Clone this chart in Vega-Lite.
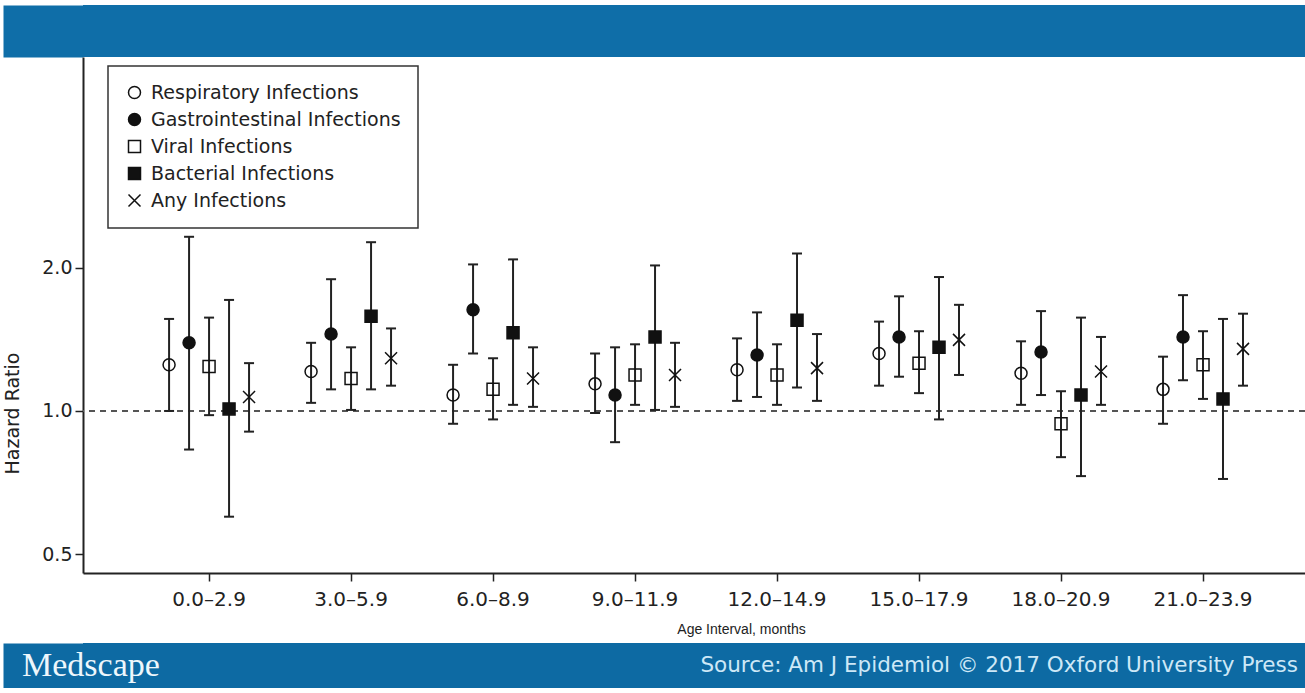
{
  "$schema": "https://vega.github.io/schema/vega-lite/v6.json",
  "background": "white",
  "padding": {"left": 3, "top": 5, "right": 0, "bottom": 0},
  "spacing": 0,
  "resolve": {"legend": {"fill": "independent", "shape": "independent", "stroke": "independent"}},
  "datasets": {
    "hazard": [
      {"age": "0.0–2.9", "infection": "Respiratory Infections", "hr": 1.25, "lower": 1.0, "upper": 1.56},
      {"age": "0.0–2.9", "infection": "Gastrointestinal Infections", "hr": 1.39, "lower": 0.83, "upper": 2.32},
      {"age": "0.0–2.9", "infection": "Viral Infections", "hr": 1.24, "lower": 0.98, "upper": 1.57},
      {"age": "0.0–2.9", "infection": "Bacterial Infections", "hr": 1.01, "lower": 0.6, "upper": 1.71},
      {"age": "0.0–2.9", "infection": "Any Infections", "hr": 1.07, "lower": 0.905, "upper": 1.26},
      {"age": "3.0–5.9", "infection": "Respiratory Infections", "hr": 1.21, "lower": 1.04, "upper": 1.39},
      {"age": "3.0–5.9", "infection": "Gastrointestinal Infections", "hr": 1.45, "lower": 1.11, "upper": 1.89},
      {"age": "3.0–5.9", "infection": "Viral Infections", "hr": 1.17, "lower": 1.005, "upper": 1.36},
      {"age": "3.0–5.9", "infection": "Bacterial Infections", "hr": 1.58, "lower": 1.11, "upper": 2.26},
      {"age": "3.0–5.9", "infection": "Any Infections", "hr": 1.29, "lower": 1.13, "upper": 1.49},
      {"age": "6.0–8.9", "infection": "Respiratory Infections", "hr": 1.08, "lower": 0.94, "upper": 1.25},
      {"age": "6.0–8.9", "infection": "Gastrointestinal Infections", "hr": 1.63, "lower": 1.32, "upper": 2.03},
      {"age": "6.0–8.9", "infection": "Viral Infections", "hr": 1.11, "lower": 0.96, "upper": 1.29},
      {"age": "6.0–8.9", "infection": "Bacterial Infections", "hr": 1.46, "lower": 1.03, "upper": 2.08},
      {"age": "6.0–8.9", "infection": "Any Infections", "hr": 1.17, "lower": 1.02, "upper": 1.36},
      {"age": "9.0–11.9", "infection": "Respiratory Infections", "hr": 1.14, "lower": 0.99, "upper": 1.32},
      {"age": "9.0–11.9", "infection": "Gastrointestinal Infections", "hr": 1.08, "lower": 0.86, "upper": 1.36},
      {"age": "9.0–11.9", "infection": "Viral Infections", "hr": 1.19, "lower": 1.03, "upper": 1.38},
      {"age": "9.0–11.9", "infection": "Bacterial Infections", "hr": 1.43, "lower": 1.005, "upper": 2.02},
      {"age": "9.0–11.9", "infection": "Any Infections", "hr": 1.19, "lower": 1.02, "upper": 1.39},
      {"age": "12.0–14.9", "infection": "Respiratory Infections", "hr": 1.22, "lower": 1.05, "upper": 1.42},
      {"age": "12.0–14.9", "infection": "Gastrointestinal Infections", "hr": 1.31, "lower": 1.07, "upper": 1.61},
      {"age": "12.0–14.9", "infection": "Viral Infections", "hr": 1.19, "lower": 1.03, "upper": 1.38},
      {"age": "12.0–14.9", "infection": "Bacterial Infections", "hr": 1.55, "lower": 1.12, "upper": 2.14},
      {"age": "12.0–14.9", "infection": "Any Infections", "hr": 1.23, "lower": 1.05, "upper": 1.45},
      {"age": "15.0–17.9", "infection": "Respiratory Infections", "hr": 1.32, "lower": 1.13, "upper": 1.54},
      {"age": "15.0–17.9", "infection": "Gastrointestinal Infections", "hr": 1.43, "lower": 1.18, "upper": 1.74},
      {"age": "15.0–17.9", "infection": "Viral Infections", "hr": 1.26, "lower": 1.09, "upper": 1.47},
      {"age": "15.0–17.9", "infection": "Bacterial Infections", "hr": 1.36, "lower": 0.96, "upper": 1.91},
      {"age": "15.0–17.9", "infection": "Any Infections", "hr": 1.41, "lower": 1.19, "upper": 1.67},
      {"age": "18.0–20.9", "infection": "Respiratory Infections", "hr": 1.2, "lower": 1.03, "upper": 1.4},
      {"age": "18.0–20.9", "infection": "Gastrointestinal Infections", "hr": 1.33, "lower": 1.08, "upper": 1.62},
      {"age": "18.0–20.9", "infection": "Viral Infections", "hr": 0.94, "lower": 0.8, "upper": 1.1},
      {"age": "18.0–20.9", "infection": "Bacterial Infections", "hr": 1.08, "lower": 0.73, "upper": 1.57},
      {"age": "18.0–20.9", "infection": "Any Infections", "hr": 1.21, "lower": 1.03, "upper": 1.43},
      {"age": "21.0–23.9", "infection": "Respiratory Infections", "hr": 1.11, "lower": 0.94, "upper": 1.3},
      {"age": "21.0–23.9", "infection": "Gastrointestinal Infections", "hr": 1.43, "lower": 1.16, "upper": 1.75},
      {"age": "21.0–23.9", "infection": "Viral Infections", "hr": 1.25, "lower": 1.06, "upper": 1.47},
      {"age": "21.0–23.9", "infection": "Bacterial Infections", "hr": 1.06, "lower": 0.72, "upper": 1.56},
      {"age": "21.0–23.9", "infection": "Any Infections", "hr": 1.35, "lower": 1.13, "upper": 1.6}
    ],
    "reference": [{"ratio": 1}],
    "header": [{"part": "header"}],
    "footerband": [{"part": "footer"}],
    "footer": [
      {"side": "left", "label": "Medscape"},
      {"side": "right", "label": "Source: Am J Epidemiol © 2017 Oxford University Press"}
    ]
  },
  "config": {
    "view": {"stroke": null},
    "font": "DejaVu Sans",
    "axis": {
      "domainColor": "#222",
      "domainWidth": 2,
      "tickColor": "#222",
      "tickWidth": 1.5,
      "tickSize": 8,
      "labelFont": "DejaVu Sans",
      "labelFontSize": 19,
      "labelColor": "#222",
      "titleColor": "#222",
      "titleFontWeight": "normal",
      "grid": false
    },
    "axisX": {"labelPadding": 8, "labelFontSize": 20, "titlePadding": 13, "titleFont": "Liberation Sans", "titleFontSize": 14, "labelAngle": 0, "titleX": 658},
    "axisY": {"labelPadding": 3, "titlePadding": 19, "titleFont": "DejaVu Sans", "titleFontSize": 19, "titleY": 356},
    "legend": {
      "orient": "none",
      "legendX": 25,
      "legendY": 9,
      "padding": 17,
      "rowPadding": 7,
      "labelFont": "DejaVu Sans",
      "labelFontSize": 19,
      "labelColor": "#222",
      "labelOffset": 7,
      "labelLimit": 500,
      "symbolSize": 144,
      "symbolStrokeColor": "#111",
      "symbolStrokeWidth": 1.5,
      "strokeColor": "#333",
      "strokeWidth": 1.5,
      "fillColor": "white"
    }
  },
  "vconcat": [
    {
      "width": 1222,
      "height": 52,
      "view": {"fill": "#0f6ea8", "stroke": null},
      "data": {"name": "header"},
      "mark": {"type": "rect", "color": "#0f6ea8"},
      "encoding": {
        "y": {"field": "part", "type": "nominal", "title": null,
          "scale": {"paddingInner": 0, "paddingOuter": 0},
          "axis": {"labels": false, "ticks": false, "title": null, "domain": true, "domainWidth": 80, "domainColor": "#0f6ea8", "offset": 40, "zindex": 0}}
      }
    },
    {
      "spacing": 7,
      "resolve": {"legend": {"fill": "independent", "shape": "independent", "stroke": "independent"}},
      "vconcat": [
        {
          "width": 1222,
          "height": 516,
          "data": {"name": "hazard"},
          "layer": [
            {
              "data": {"name": "reference"},
              "mark": {"type": "rule", "color": "#555", "strokeWidth": 2, "strokeDash": [6, 5]},
              "encoding": {
                "y": {"field": "ratio", "type": "quantitative", "title": "Hazard Ratio", "scale": {"type": "log", "domain": [0.4571, 5.53], "nice": false}}
              }
            },
            {
              "mark": {"type": "rule", "color": "#222", "strokeWidth": 2},
              "encoding": {
                "x": {"field": "age", "type": "nominal", "title": "Age Interval, months",
                  "scale": {"type": "band", "domain": ["0.0–2.9", "3.0–5.9", "6.0–8.9", "9.0–11.9", "12.0–14.9", "15.0–17.9", "18.0–20.9", "21.0–23.9"], "paddingInner": 0.296, "paddingOuter": 0.451, "align": 0.594}},
                "xOffset": {"field": "infection", "type": "nominal", "scale": {"domain": ["Respiratory Infections", "Gastrointestinal Infections", "Viral Infections", "Bacterial Infections", "Any Infections"]}},
                "y": {"field": "lower", "type": "quantitative", "title": "Hazard Ratio", "scale": {"type": "log", "domain": [0.4571, 5.53], "nice": false}, "axis": {"values": [0.5, 1, 2], "format": ".1f"}},
                "y2": {"field": "upper"}
              }
            },
            {
              "mark": {"type": "tick", "color": "#222", "size": 10, "thickness": 2, "opacity": 1},
              "encoding": {
                "x": {"field": "age", "type": "nominal", "title": "Age Interval, months"},
                "xOffset": {"field": "infection", "type": "nominal"},
                "y": {"field": "upper", "type": "quantitative", "title": "Hazard Ratio"}
              }
            },
            {
              "mark": {"type": "tick", "color": "#222", "size": 10, "thickness": 2, "opacity": 1},
              "encoding": {
                "x": {"field": "age", "type": "nominal", "title": "Age Interval, months"},
                "xOffset": {"field": "infection", "type": "nominal"},
                "y": {"field": "lower", "type": "quantitative", "title": "Hazard Ratio"}
              }
            },
            {
              "mark": {"type": "point", "opacity": 1, "strokeWidth": 1.5, "size": 144},
              "encoding": {
                "x": {"field": "age", "type": "nominal", "title": "Age Interval, months"},
                "xOffset": {"field": "infection", "type": "nominal"},
                "y": {"field": "hr", "type": "quantitative", "title": "Hazard Ratio"},
                "shape": {"field": "infection", "type": "nominal", "title": null,
                  "scale": {"domain": ["Respiratory Infections", "Gastrointestinal Infections", "Viral Infections", "Bacterial Infections", "Any Infections"],
                    "range": ["circle", "circle", "square", "square", "M-1,-1L1,1M-1,1L1,-1"]}},
                "fill": {"field": "infection", "type": "nominal", "title": null,
                  "scale": {"domain": ["Respiratory Infections", "Gastrointestinal Infections", "Viral Infections", "Bacterial Infections", "Any Infections"],
                    "range": ["transparent", "#111", "transparent", "#111", "transparent"]}},
                "stroke": {"field": "infection", "type": "nominal", "title": null,
                  "scale": {"domain": ["Respiratory Infections", "Gastrointestinal Infections", "Viral Infections", "Bacterial Infections", "Any Infections"],
                    "range": ["#111", "#111", "#111", "#111", "#111"]}}
              }
            }
          ]
        },
        {
          "width": 1222,
          "height": 45,
          "view": {"fill": "#0d6aa3", "stroke": null},
          "layer": [
            {
              "data": {"name": "footerband"},
              "mark": {"type": "rect", "color": "#0d6aa3"},
              "encoding": {
                "y": {"field": "part", "type": "nominal", "title": null,
                  "scale": {"paddingInner": 0, "paddingOuter": 0},
                  "axis": {"labels": false, "ticks": false, "title": null, "domain": true, "domainWidth": 80, "domainColor": "#0d6aa3", "offset": 40, "zindex": 0}}
              }
            },
            {
              "data": {"name": "footer"},
              "transform": [{"filter": "datum.side === 'left'"}],
              "mark": {"type": "text", "align": "left", "baseline": "middle", "dx": -61, "font": "Liberation Serif", "fontSize": 34, "color": "#eef7fc"},
              "encoding": {
                "x": {"field": "side", "type": "nominal", "axis": null, "scale": {"type": "point", "domain": ["left", "right"], "padding": 0}},
                "text": {"field": "label"}
              }
            },
            {
              "data": {"name": "footer"},
              "transform": [{"filter": "datum.side === 'right'"}],
              "mark": {"type": "text", "align": "right", "baseline": "middle", "dx": -7, "font": "DejaVu Sans", "fontSize": 21.5, "color": "#cde8f7"},
              "encoding": {
                "x": {"field": "side", "type": "nominal", "axis": null},
                "text": {"field": "label"}
              }
            }
          ]
        }
      ]
    }
  ]
}
